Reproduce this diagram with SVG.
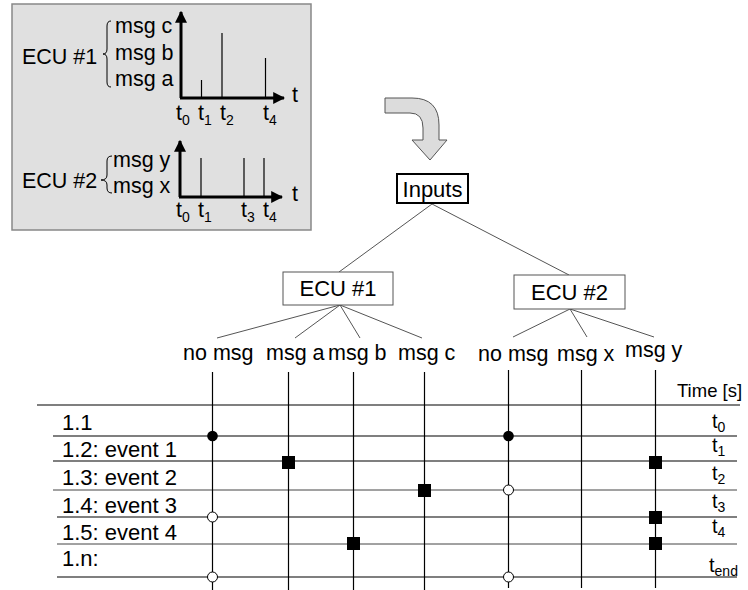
<svg xmlns="http://www.w3.org/2000/svg" width="748" height="590" viewBox="0 0 748 590">
<style>
text{font-family:"Liberation Sans",Arial,sans-serif;fill:#000}
.l{font-size:21.5px}
.m{font-size:22px}
.c{font-size:21.5px}
.s{font-size:18.5px}
.t{font-size:20px}
.sub{font-size:14px}
.ax{stroke:#000;stroke-width:3;fill:none}
.sp{stroke:#000;stroke-width:1.2;fill:none}
.br{stroke:#000;stroke-width:1;fill:none}
.tree{stroke:#555;stroke-width:1;fill:none}
.row{stroke:#000;stroke-width:1.2}
.row2{stroke:#444;stroke-width:1}
.col{stroke:#000;stroke-width:1.2}
.sq{fill:#000}
.fc{fill:#000}
.oc{fill:#fff;stroke:#000;stroke-width:1}
</style>
<defs>
<marker id="ah" viewBox="0 0 10 10" refX="9" refY="5" markerWidth="4" markerHeight="4" orient="auto" markerUnits="strokeWidth">
<path d="M0,0 L10,5 L0,10 Z" fill="#000"/>
</marker>
</defs>

<g id="legend">
<rect x="12" y="4" width="299" height="226" fill="#e0e0e0" stroke="#888" stroke-width="1.5"/>
<text class="l" x="22" y="64">ECU #1</text>
<path class="br" d="M111,21 Q107,21 107,26 L107,49 Q107,54 103,54 Q107,54 107,59 L107,82 Q107,87 111,87"/>
<text class="l" x="115" y="33">msg c</text>
<text class="l" x="115" y="60">msg b</text>
<text class="l" x="115" y="86">msg a</text>
<line class="ax" x1="181" y1="98" x2="181" y2="12" marker-end="url(#ah)"/>
<line class="ax" x1="180" y1="98" x2="284" y2="98" marker-end="url(#ah)"/>
<line class="sp" x1="201.5" y1="80" x2="201.5" y2="98"/>
<line class="sp" x1="222" y1="33" x2="222" y2="98"/>
<line class="sp" x1="265.5" y1="58" x2="265.5" y2="98"/>
<text class="l" x="292" y="102">t</text>
<text class="l" x="176" y="120">t<tspan class="sub" dy="5">0</tspan></text>
<text class="l" x="198" y="120">t<tspan class="sub" dy="5">1</tspan></text>
<text class="l" x="220" y="120">t<tspan class="sub" dy="5">2</tspan></text>
<text class="l" x="263" y="120">t<tspan class="sub" dy="5">4</tspan></text>

<text class="l" x="22" y="188">ECU #2</text>
<path class="br" d="M112,156 Q107,156 107,161 L107,175 Q107,180 101,180 Q107,180 107,185 L107,188 Q107,193 112,193"/>
<text class="l" x="113" y="167">msg y</text>
<text class="l" x="113" y="193">msg x</text>
<line class="ax" x1="180" y1="197" x2="180" y2="141" marker-end="url(#ah)"/>
<line class="ax" x1="179" y1="197" x2="282" y2="197" marker-end="url(#ah)"/>
<line class="sp" x1="201" y1="158" x2="201" y2="197"/>
<line class="sp" x1="244" y1="158" x2="244" y2="197"/>
<line class="sp" x1="264" y1="158" x2="264" y2="197"/>
<text class="l" x="292" y="201">t</text>
<text class="l" x="176" y="217">t<tspan class="sub" dy="5">0</tspan></text>
<text class="l" x="198" y="217">t<tspan class="sub" dy="5">1</tspan></text>
<text class="l" x="241" y="217">t<tspan class="sub" dy="5">3</tspan></text>
<text class="l" x="263" y="217">t<tspan class="sub" dy="5">4</tspan></text>
</g>

<g id="bigarrow">
<path d="M385,98 L412,98 Q439,98 439,125 L439,140 L447,140 L430,160 L412,140 L423,140 L423,128 Q423,113 410,113 L385,113 Z" fill="#dcdcdc" stroke="#555" stroke-width="1"/>
</g>

<g id="connectors">
<line class="tree" x1="432" y1="204" x2="339" y2="272"/>
<line class="tree" x1="432" y1="204" x2="569" y2="275"/>
<line class="tree" x1="340" y1="305" x2="217" y2="338"/>
<line class="tree" x1="340" y1="305" x2="295" y2="338"/>
<line class="tree" x1="340" y1="305" x2="360" y2="338"/>
<line class="tree" x1="340" y1="305" x2="422" y2="338"/>
<line class="tree" x1="570" y1="309" x2="513" y2="337"/>
<line class="tree" x1="570" y1="309" x2="587" y2="337"/>
<line class="tree" x1="570" y1="309" x2="654" y2="337"/>
</g>

<g id="inputs">
<rect x="397" y="174" width="71" height="29" fill="#fff" stroke="#000" stroke-width="2"/>
<text class="m" x="432.5" y="197" text-anchor="middle">Inputs</text>
</g>
<g id="ecu1">
<rect x="283" y="272" width="110" height="33" fill="#fff" stroke="#555" stroke-width="1"/>
<text class="m" x="338" y="296" text-anchor="middle">ECU #1</text>
</g>
<g id="ecu2">
<rect x="514" y="275" width="111" height="34" fill="#fff" stroke="#555" stroke-width="1"/>
<text class="m" x="569.5" y="300" text-anchor="middle">ECU #2</text>
</g>

<g id="columns">
<text class="c" x="183" y="360">no msg</text>
<text class="c" x="266" y="360">msg a</text>
<text class="c" x="328" y="360">msg b</text>
<text class="c" x="398" y="360">msg c</text>
<text class="c" x="478" y="361">no msg</text>
<text class="c" x="557" y="361">msg x</text>
<text class="c" x="625" y="357">msg y</text>
</g>

<g id="grid">
<line class="row" x1="37" y1="405" x2="740" y2="405"/>
<line class="row" x1="53" y1="436" x2="737" y2="436"/>
<line class="row" x1="53" y1="461" x2="737" y2="461"/>
<line class="row2" x1="53" y1="490" x2="737" y2="490"/>
<line class="row" x1="57" y1="517" x2="737" y2="517"/>
<line class="row2" x1="57" y1="544" x2="737" y2="544"/>
<line class="row" x1="57" y1="577" x2="737" y2="577"/>
<line class="col" x1="212.5" y1="372" x2="212.5" y2="590"/>
<line class="col" x1="288.5" y1="372" x2="288.5" y2="590"/>
<line class="col" x1="353.5" y1="372" x2="353.5" y2="590"/>
<line class="col" x1="424.5" y1="372" x2="424.5" y2="590"/>
<line class="col" x1="508.5" y1="370" x2="508.5" y2="588"/>
<line class="col" x1="581.5" y1="370" x2="581.5" y2="588"/>
<line class="col" x1="655.5" y1="370" x2="655.5" y2="588"/>
</g>

<g id="rowlabels">
<text class="m" x="62" y="430">1.1</text>
<text class="m" x="62" y="457">1.2: event 1</text>
<text class="m" x="62" y="485">1.3: event 2</text>
<text class="m" x="62" y="513">1.4: event 3</text>
<text class="m" x="62" y="540">1.5: event 4</text>
<text class="m" x="62" y="566">1.n:</text>
</g>

<g id="timelabels">
<text class="s" x="677" y="397">Time [s]</text>
<text class="t" x="712" y="428">t<tspan class="sub" dy="4">0</tspan></text>
<text class="t" x="712" y="452">t<tspan class="sub" dy="4">1</tspan></text>
<text class="t" x="712" y="480">t<tspan class="sub" dy="4">2</tspan></text>
<text class="t" x="712" y="508">t<tspan class="sub" dy="4">3</tspan></text>
<text class="t" x="712" y="533">t<tspan class="sub" dy="4">4</tspan></text>
<text class="t" x="709" y="572">t<tspan class="sub" dy="4">end</tspan></text>
</g>

<g id="markers">
<circle class="fc" cx="212.5" cy="436" r="5.3"/>
<circle class="fc" cx="508.5" cy="436" r="5.3"/>
<circle class="oc" cx="212.5" cy="517" r="5"/>
<circle class="oc" cx="212.5" cy="577" r="5"/>
<circle class="oc" cx="508.5" cy="490" r="5"/>
<circle class="oc" cx="508.5" cy="577" r="5"/>
<rect class="sq" x="282" y="456" width="13" height="13"/>
<rect class="sq" x="347" y="537" width="13" height="13"/>
<rect class="sq" x="418" y="484" width="13" height="13"/>
<rect class="sq" x="649" y="456" width="13" height="13"/>
<rect class="sq" x="649" y="511" width="13" height="13"/>
<rect class="sq" x="649" y="537" width="13" height="13"/>
</g>
</svg>
